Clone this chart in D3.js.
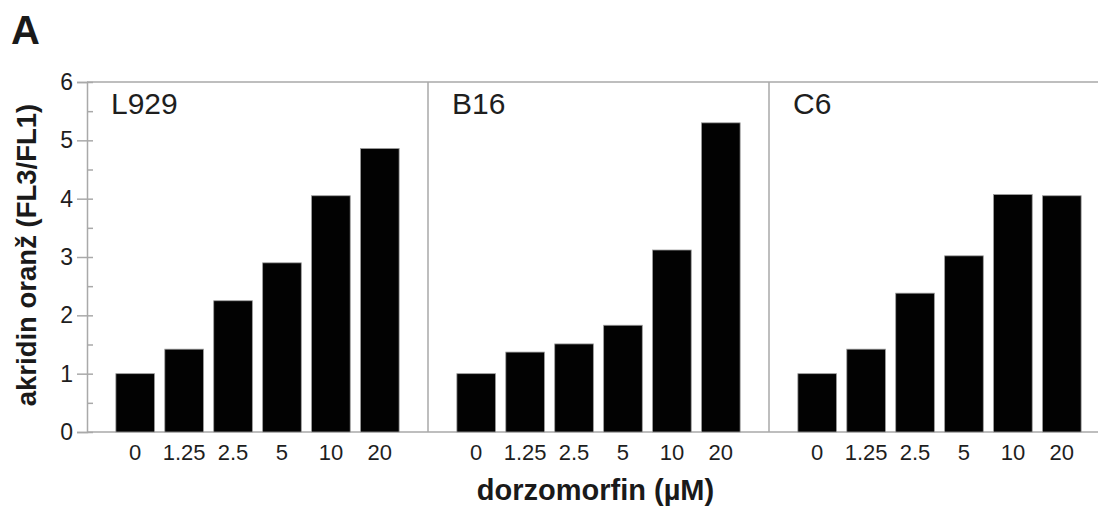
<!DOCTYPE html>
<html>
<head>
<meta charset="utf-8">
<script src="https://cdn.jsdelivr.net/npm/d3@7"></script>
<style>
  body { margin: 0; background: #fff; }
  svg { display: block; font-family: "Liberation Sans", Arial, sans-serif; }
</style>
</head>
<body>
<svg id="chart" width="1098" height="507"></svg>
<script>
// data
var cellLines = ['L929', 'B16', 'C6'];
var doses = ['0', '1.25', '2.5', '5', '10', '20'];
var l929Values = [1.0, 1.42, 2.25, 2.90, 4.05, 4.86];
var b16Values = [1.0, 1.37, 1.51, 1.83, 3.12, 5.30];
var c6Values = [1.0, 1.42, 2.38, 3.02, 4.07, 4.05];
var yTicks = [0, 1, 2, 3, 4, 5, 6];
var yMinorTicks = [0.5, 1.5, 2.5, 3.5, 4.5, 5.5];

var seriesByLine = { 'L929': l929Values, 'B16': b16Values, 'C6': c6Values };

//layout
var svg = d3.select('#chart'),
    plotLeft = 87,
    plotTop = 82,
    plotBottom = 432,
    panelW = 341,
    lineColor = '#a9a9a9';

//scales
var y = d3.scaleLinear().domain([0, 6]).range([plotBottom, plotTop]);
var xPanel = d3.scaleBand().domain(cellLines).range([plotLeft, plotLeft + panelW * cellLines.length]);
var xDose = d3.scaleBand().domain(doses).range([0, panelW]).paddingInner(0.21).paddingOuter(0.59);

//panel "A" label
svg.append('text')
    .attr('x', 11).attr('y', 44)
    .attr('font-size', 40).attr('font-weight', 'bold')
    .attr('fill', '#1a1a1a')
    .text('A');

//frame lines: top and bottom
svg.append('line')
    .attr('x1', plotLeft).attr('x2', 1098).attr('y1', plotTop).attr('y2', plotTop)
    .attr('stroke', lineColor).attr('stroke-width', 1.5);
svg.append('line')
    .attr('x1', plotLeft).attr('x2', 1098).attr('y1', plotBottom).attr('y2', plotBottom)
    .attr('stroke', lineColor).attr('stroke-width', 1.5);

//panels
cellLines.forEach(function (name) {
    var g = svg.append('g').attr('transform', 'translate(' + xPanel(name) + ',0)');

    //divider on the right side of each panel
    g.append('line')
        .attr('x1', panelW).attr('x2', panelW).attr('y1', plotTop).attr('y2', plotBottom)
        .attr('stroke', lineColor).attr('stroke-width', 1.5);

    //bars
    g.selectAll('rect')
        .data(seriesByLine[name])
        .enter()
        .append('rect')
        .attr('x', function (d, i) { return xDose(doses[i]); })
        .attr('y', function (d) { return y(d); })
        .attr('width', xDose.bandwidth())
        .attr('height', function (d) { return y(0) - y(d); })
        .attr('fill', '#020202')
        .attr('stroke', '#9c9c9c')
        .attr('stroke-width', 0.8);

    //dose tick labels
    var xAxis = g.append('g')
        .attr('transform', 'translate(0,' + plotBottom + ')')
        .call(d3.axisBottom(xDose).tickSize(0).tickPadding(12));
    xAxis.select('.domain').remove();
    xAxis.selectAll('text')
        .attr('font-size', 22)
        .attr('font-family', '"Liberation Sans", Arial, sans-serif')
        .attr('fill', '#1e1e1e')
        .attr('dy', '0.71em');

    //cell line label
    g.append('text')
        .attr('x', 24).attr('y', 114)
        .attr('font-size', 30)
        .attr('fill', '#1e1e1e')
        .text(name);
});

//y axis with crossing major ticks
var yAxis = svg.append('g')
    .attr('transform', 'translate(' + plotLeft + ',0)')
    .call(d3.axisLeft(y).tickValues(yTicks).tickFormat(d3.format('d')).tickSize(10).tickPadding(4));
yAxis.select('.domain').attr('stroke', lineColor).attr('stroke-width', 1.5);
yAxis.selectAll('.tick line').attr('x1', 6).attr('stroke', lineColor).attr('stroke-width', 1.5);
yAxis.selectAll('text')
    .attr('font-size', 23)
    .attr('font-family', '"Liberation Sans", Arial, sans-serif')
    .attr('fill', '#1e1e1e');

//minor ticks inside the plot
var yMinor = svg.append('g')
    .attr('transform', 'translate(' + plotLeft + ',0)')
    .call(d3.axisRight(y).tickValues(yMinorTicks).tickSize(6).tickFormat(''));
yMinor.select('.domain').remove();
yMinor.selectAll('.tick line').attr('stroke', lineColor).attr('stroke-width', 1.5);

//axis titles
svg.append('text')
    .attr('transform', 'translate(36,' + ((plotTop + plotBottom) / 2 - 2) + ') rotate(-90)')
    .attr('text-anchor', 'middle')
    .attr('font-size', 27.5).attr('font-weight', 'bold')
    .attr('fill', '#1a1a1a')
    .text('akridin oranž (FL3/FL1)');

svg.append('text')
    .attr('x', xPanel('B16') + panelW / 2 - 3).attr('y', 500)
    .attr('text-anchor', 'middle')
    .attr('font-size', 29).attr('font-weight', 'bold')
    .attr('fill', '#1a1a1a')
    .text('dorzomorfin (µM)');
</script>
</body>
</html>
